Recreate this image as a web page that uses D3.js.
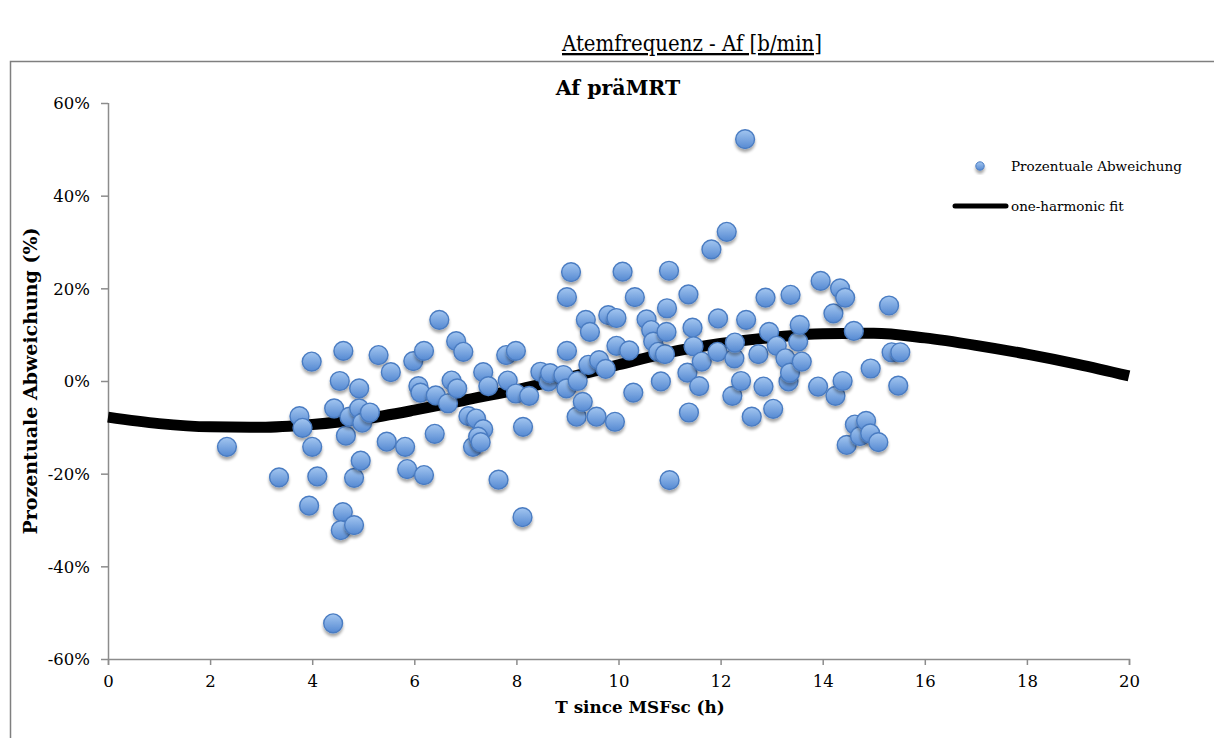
<!DOCTYPE html>
<html>
<head>
<meta charset="utf-8">
<script src="https://cdn.jsdelivr.net/npm/d3@7"></script>
<style>
  body { margin: 0; background: #fff; }
  svg { display: block; font-family: "DejaVu Serif", serif; }
</style>
</head>
<body>
<svg id="chart" width="1214" height="738"></svg>
<script>
// hours since MSFsc
const hours = [
  2.33, 3.35, 3.75, 3.81, 3.99, 4.00, 3.94, 4.10, 4.43, 4.41,
  4.54, 4.61, 4.60, 4.56, 4.66, 4.73, 4.82, 4.82, 4.92, 4.92,
  4.98, 4.95, 5.13, 5.30, 5.46, 5.54, 5.82, 5.86, 5.98, 6.08,
  6.12, 6.19, 6.19, 6.40, 6.42, 6.49, 6.66, 6.73, 6.82, 6.84,
  6.96, 7.06, 7.21, 7.35, 7.15, 7.25, 7.30, 7.35, 7.45, 7.65,
  7.80, 7.83, 7.99, 7.99, 8.13, 8.12, 8.25, 8.47, 8.63, 8.66,
  8.92, 8.98, 8.99, 8.99, 9.07, 9.18, 9.20, 9.30, 9.36, 9.41,
  9.44, 9.57, 9.62, 9.75, 9.80, 9.93, 9.96, 9.96, 10.08, 10.21,
  10.29, 10.32, 10.55, 10.64, 10.68, 10.78, 10.83, 10.91, 10.95, 10.94,
  10.99, 11.00, 11.37, 11.35, 11.38, 11.45, 11.47, 11.58, 11.63, 11.82,
  11.94, 11.95, 12.12, 12.23, 12.27, 12.28, 12.40, 12.50, 12.48, 12.61,
  12.74, 12.84, 12.88, 12.95, 13.03, 13.10, 13.27, 13.33, 13.36, 13.37,
  13.52, 13.55, 13.59, 13.91, 13.96, 14.21, 14.25, 14.34, 14.39, 14.44,
  14.47, 14.61, 14.63, 14.73, 14.85, 14.93, 14.94, 15.09, 15.30, 15.35,
  15.48, 15.52
];
// Prozentuale Abweichung (%)
const deviation = [
  -14.2, -20.8, -7.6, -10.1, 4.2, -14.2, -26.9, -20.6, -5.9, -52.3,
  0.0, 6.5, -28.3, -32.2, -11.8, -7.7, -20.9, -31.1, -1.6, -5.9,
  -9.0, -17.2, -6.8, 5.6, -13.1, 1.9, -14.2, -19.0, 4.3, -1.1,
  -2.5, 6.5, -20.3, -11.4, -3.1, 13.2, -4.8, 0.1, 8.6, -1.6,
  6.3, -7.6, -8.1, -10.4, -14.2, -12.0, -13.2, 1.9, -1.1, -21.3,
  5.6, 0.1, 6.5, -2.7, -9.9, -29.4, -3.2, 2.0, -0.1, 1.7,
  1.3, -1.6, 6.5, 18.1, 23.5, -7.7, 0.0, -4.5, 13.2, 3.5,
  10.6, -7.7, 4.5, 2.6, 14.2, -8.8, 7.6, 13.6, 23.6, 6.6,
  -2.5, 18.1, 13.3, 11.0, 8.5, 6.3, -0.1, 5.8, 15.7, 10.6,
  23.8, -21.4, 18.7, 1.8, -6.8, 11.5, 7.5, -1.1, 4.2, 28.4,
  6.3, 13.5, 32.2, -3.2, 4.9, 8.3, 0.0, 13.2, 52.2, -7.7,
  5.8, -1.2, 18.0, 10.6, -6.0, 7.6, 4.9, -0.1, 1.8, 18.6,
  8.5, 12.1, 4.2, -1.2, 21.6, 14.6, -3.2, 20.0, 0.0, 18.0,
  -13.8, 10.8, -9.4, -11.9, -8.6, -11.3, 2.7, -13.2, 16.3, 6.2,
  -1.0, 6.2
];
// one-harmonic fit, read at each full hour
const fitHours = [0, 1, 2, 3, 4, 5, 6, 7, 8, 9, 10, 11, 12, 13, 14, 15, 16, 17, 18, 19, 20];
const fitValues = [-7.8, -9.2, -9.9, -10.0, -9.4, -8.2, -6.3, -4.1, -1.9, 0.7, 3.5, 6.2, 8.1, 9.4, 10.2, 10.3, 9.3, 7.7, 5.8, 3.6, 1.1];

const xTicks = [0, 2, 4, 6, 8, 10, 12, 14, 16, 18, 20];
const yTicks = [-60, -40, -20, 0, 20, 40, 60];

const svg = d3.select("#chart");
const axisColor = "#8c8c8c";

const x = d3.scaleLinear().domain([0, 20]).range([108, 1129]);
const y = d3.scaleLinear().domain([-60, 60]).range([659, 103]);

const defs = svg.append("defs");
const grad = defs.append("linearGradient").attr("id", "ball")
  .attr("x1", 0).attr("y1", 0).attr("x2", 0).attr("y2", 1);
grad.append("stop").attr("offset", "0%").attr("stop-color", "#a3c6f0");
grad.append("stop").attr("offset", "100%").attr("stop-color", "#5589d2");
const shadow = defs.append("filter").attr("id", "shadow")
  .attr("x", "-50%").attr("y", "-50%").attr("width", "200%").attr("height", "200%");
shadow.append("feGaussianBlur").attr("in", "SourceAlpha").attr("stdDeviation", 1.8);
shadow.append("feOffset").attr("dx", 0).attr("dy", 3).attr("result", "blur");
shadow.append("feComponentTransfer").append("feFuncA").attr("type", "linear").attr("slope", 0.35);
const merge = shadow.append("feMerge");
merge.append("feMergeNode");
merge.append("feMergeNode").attr("in", "SourceGraphic");

// page title, underlined
svg.append("text")
  .attr("x", 692).attr("y", 51)
  .attr("text-anchor", "middle")
  .attr("font-size", 23)
  .attr("textLength", 260).attr("lengthAdjust", "spacingAndGlyphs")
  .attr("text-decoration", "underline")
  .text("Atemfrequenz - Af [b/min]");

// chart frame
svg.append("rect")
  .attr("x", 10.5).attr("y", 61.5)
  .attr("width", 1240).attr("height", 720)
  .attr("fill", "none").attr("stroke", "#7f7f7f").attr("stroke-width", 1.5);

// axes
const xAxis = d3.axisBottom(x).tickValues(xTicks).tickSize(6).tickPadding(10);
const yAxis = d3.axisLeft(y).tickValues(yTicks).tickSize(7).tickPadding(11)
  .tickFormat(d => d + "%");

const gx = svg.append("g").attr("transform", `translate(0,${y(-60)})`).call(xAxis);
const gy = svg.append("g").attr("transform", `translate(${x(0)},0)`).call(yAxis);
[gx, gy].forEach(g => {
  g.select(".domain").attr("stroke", axisColor).attr("stroke-width", 1.5);
  g.selectAll(".tick line").attr("stroke", axisColor).attr("stroke-width", 1.5);
  g.selectAll(".tick text").attr("fill", "#000")
    .attr("font-family", "DejaVu Serif, serif").attr("font-size", 16.5);
});
gy.select(".domain").attr("d", `M0.5,${y(60)}V${y(-60)}`);
gy.selectAll(".tick text").attr("dy", "0.35em");

// fit line
const line = d3.line().x(d => x(d[0])).y(d => y(d[1])).curve(d3.curveMonotoneX);
svg.append("path")
  .datum(d3.zip(fitHours, fitValues))
  .attr("d", line)
  .attr("fill", "none").attr("stroke", "#000").attr("stroke-width", 11);

// data points
svg.append("g").selectAll("circle")
  .data(d3.zip(hours, deviation))
  .join("circle")
  .attr("cx", d => x(d[0])).attr("cy", d => y(d[1]))
  .attr("r", 9.4)
  .attr("fill", "url(#ball)").attr("stroke", "#4a7cc2").attr("stroke-width", 1.4)
  .attr("filter", "url(#shadow)");

// chart title
svg.append("text")
  .attr("x", 618).attr("y", 95)
  .attr("text-anchor", "middle")
  .attr("font-size", 20.5).attr("font-weight", "bold")
  .text("Af präMRT");

// axis titles
svg.append("text")
  .attr("x", 640).attr("y", 713)
  .attr("text-anchor", "middle")
  .attr("font-size", 16.8).attr("font-weight", "bold")
  .text("T since MSFsc (h)");
svg.append("text")
  .attr("transform", "translate(37,381) rotate(-90)")
  .attr("text-anchor", "middle")
  .attr("font-size", 19).attr("font-weight", "bold")
  .text("Prozentuale Abweichung (%)");

// legend
const legend = svg.append("g").attr("font-size", 13.5);
legend.append("circle")
  .attr("cx", 980).attr("cy", 166).attr("r", 4.2)
  .attr("fill", "url(#ball)").attr("stroke", "#4a7cc2").attr("stroke-width", 1)
  .attr("filter", "url(#shadow)");
legend.append("text").attr("x", 1011).attr("y", 171).text("Prozentuale Abweichung");
legend.append("line")
  .attr("x1", 955).attr("x2", 1006).attr("y1", 206).attr("y2", 206)
  .attr("stroke", "#000").attr("stroke-width", 5).attr("stroke-linecap", "round");
legend.append("text").attr("x", 1011).attr("y", 211).text("one-harmonic fit");
</script>
</body>
</html>
